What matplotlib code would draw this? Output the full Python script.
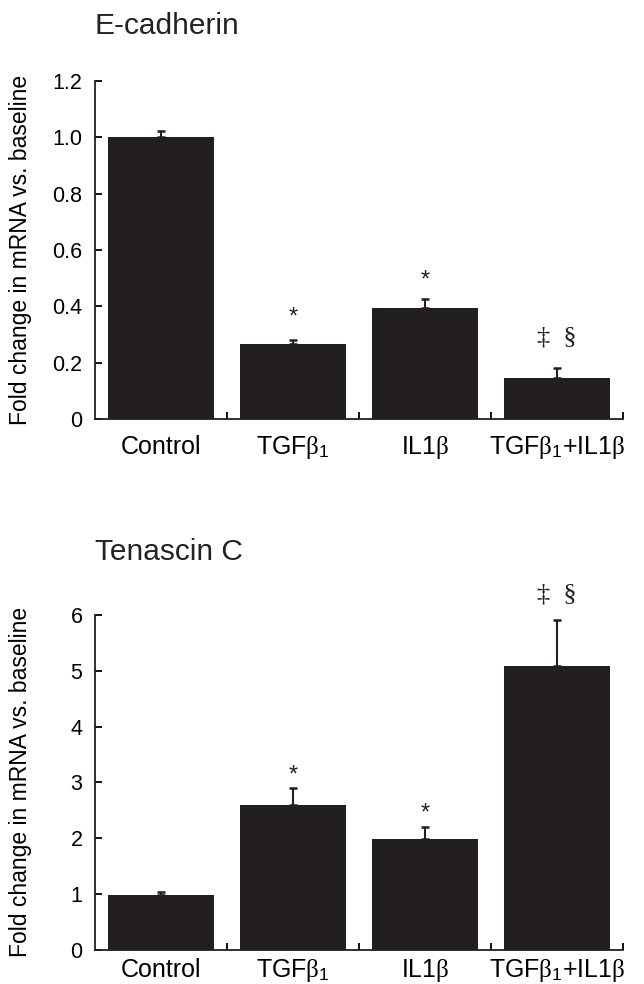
import numpy as np
import matplotlib
matplotlib.use("Agg")
import matplotlib.pyplot as plt

plt.rcParams['font.family'] = ['Liberation Sans', 'DejaVu Sans']
plt.rcParams['mathtext.fontset'] = 'custom'
plt.rcParams['mathtext.rm'] = 'Liberation Sans'
plt.rcParams['mathtext.it'] = 'Liberation Serif'
plt.rcParams['mathtext.bf'] = 'Liberation Sans:bold'

# data
groups = ['Control', r'TGF$\beta_1$', r'IL1$\beta$', r'TGF$\beta_1$+IL1$\beta$']

ecad_mean = [1.00, 0.267, 0.395, 0.146]
ecad_err = [0.02, 0.012, 0.032, 0.037]
ecad_marks = ['', '*', '*', '\u2021  \u00a7']
ecad_mark_y = [0, 0.36, 0.49, 0.29]

tnc_mean = [0.99, 2.59, 1.98, 5.09]
tnc_err = [0.04, 0.31, 0.22, 0.82]
tnc_marks = ['', '*', '*', '\u2021  \u00a7']
tnc_mark_y = [0, 3.13, 2.44, 6.36]

bar_color = '#231f20'

fig = plt.figure(figsize=(6.44, 9.84), dpi=100)
ax1 = fig.add_axes([0.1475, 0.574, 0.820, 0.344])
ax2 = fig.add_axes([0.1475, 0.0346, 0.820, 0.3405])


def draw(ax, means, errs, marks, mark_y, ymax, yticks, ylabels, title, title_y, xpad):
    x = np.arange(len(groups))
    ax.bar(x, means, width=0.8, color=bar_color, zorder=2)
    ax.errorbar(x, means, yerr=[np.zeros(len(errs)), errs], fmt='none',
                ecolor=bar_color, elinewidth=1.5, capsize=3, capthick=1.8, zorder=1)
    for xi, m, yy in zip(x, marks, mark_y):
        if not m:
            continue
        if m == '*':
            ax.text(xi, yy, m, ha='center', va='center', fontsize=17, color=bar_color)
        else:
            ax.text(xi, yy, m, ha='center', va='center', fontsize=19,
                    family='Liberation Serif', color=bar_color)
    ax.set_xlim(-0.5, 3.5)
    ax.set_ylim(0, ymax)
    ax.set_yticks(yticks)
    ax.set_yticklabels(ylabels)
    ax.set_xticks(x)
    ax.set_xticklabels(groups, fontsize=18)
    for lab in ax.get_xticklabels():
        lab.set_va('baseline')
    ax.set_xticks([0.5, 1.5, 2.5, 3.5], minor=True)
    ax.tick_params(axis='x', which='major', length=0, pad=xpad)
    ax.tick_params(axis='x', which='minor', direction='in', length=5, width=1.3)
    ax.tick_params(axis='y', direction='in', length=5, width=1.3, labelsize=15.5, pad=9)
    for s in ['top', 'right']:
        ax.spines[s].set_visible(False)
    for s in ['left', 'bottom']:
        ax.spines[s].set_linewidth(1.3)
        ax.spines[s].set_color(bar_color)
    ax.set_ylabel('Fold change in mRNA vs. baseline', fontsize=16.5)
    ax.yaxis.set_label_coords(-0.119, 0.5)
    ax.text(0.0, title_y, title, transform=ax.transAxes, ha='left', va='center',
            fontsize=21.5, color='#222222')


draw(ax1, ecad_mean, ecad_err, ecad_marks, ecad_mark_y, 1.2,
     [0, 0.2, 0.4, 0.6, 0.8, 1.0, 1.2], ['0', '0.2', '0.4', '0.6', '0.8', '1.0', '1.2'],
     'E-cadherin', 1.162, 25)
draw(ax2, tnc_mean, tnc_err, tnc_marks, tnc_mark_y, 6,
     [0, 1, 2, 3, 4, 5, 6], ['0', '1', '2', '3', '4', '5', '6'],
     'Tenascin C', 1.188, 19.5)

fig.savefig('out.png', dpi=100)
